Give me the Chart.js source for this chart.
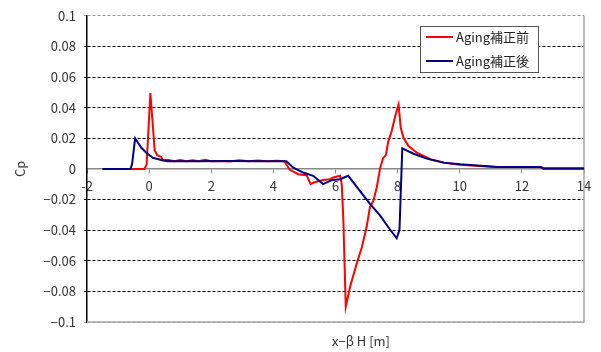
<!DOCTYPE html>
<html>
<head>
<meta charset="utf-8">
<script src="https://cdn.jsdelivr.net/npm/chart.js@4/dist/chart.umd.min.js"></script>
<style>
  html, body { margin: 0; padding: 0; background: #fff; }
  #wrap { width: 601px; height: 352px; }
</style>
</head>
<body>
<div id="wrap"><canvas id="cpChart" width="601" height="352"></canvas></div>
<script>
// Aging補正前 (赤)
const redX = [-1.5, -0.5, -0.15, -0.08, 0.04, 0.18, 0.26, 0.39, 0.45, 0.6, 0.8, 1.0, 1.2, 1.4, 1.6, 1.8, 2.0, 2.3, 2.6, 2.9, 3.2, 3.5, 3.8, 4.1, 4.35,
  4.53, 4.8, 5.07, 5.2, 5.3, 5.6, 5.82, 5.93, 6.15, 6.2, 6.25, 6.33, 6.47, 6.68, 6.85, 7.0, 7.11, 7.22, 7.33, 7.44, 7.54, 7.62, 7.7, 7.81, 7.92, 8.03,
  8.1, 8.19, 8.35, 8.62, 9.05, 9.5, 10.0, 10.5, 11.2, 12.6, 12.7, 14];
const redY = [0, 0, 0, 0.003, 0.0495, 0.012, 0.009, 0.0078, 0.0056, 0.006, 0.005, 0.0058, 0.005, 0.0057, 0.005, 0.006, 0.005, 0.0052, 0.0048, 0.0056, 0.005, 0.0055, 0.005, 0.0054, 0.005,
  -0.0006, -0.0035, -0.0041, -0.0099, -0.0089, -0.0073, -0.0067, -0.0056, -0.0045, -0.01, -0.0316, -0.090, -0.077, -0.062, -0.051, -0.038, -0.025, -0.0208, -0.012, 0.001, 0.0073, 0.009, 0.018, 0.0247, 0.0344, 0.042,
  0.0268, 0.0203, 0.0149, 0.0106, 0.0063, 0.004, 0.0027, 0.002, 0.0012, 0.0012, 0, 0];

// Aging補正後 (紺)
const blueX = [-1.5, -0.6, -0.55, -0.45, -0.25, -0.09, 0.12, 0.39, 0.6, 1.5, 2.5, 3.5, 4.42, 4.64, 4.96, 5.28, 5.6, 5.9, 6.15, 6.41,
  6.74, 7.11, 7.44, 7.7, 7.97, 8.06, 8.15, 8.51, 8.94, 9.48, 10.02, 10.45, 11.2, 12.6, 12.7, 14];
const blueY = [0, 0, 0.003, 0.0199, 0.0138, 0.0106, 0.0073, 0.0058, 0.005, 0.005, 0.0052, 0.005, 0.005, 0.0008, -0.0024, -0.0045, -0.0099, -0.0072, -0.0067, -0.0045,
  -0.0132, -0.0229, -0.0305, -0.0381, -0.0453, -0.040, 0.0134, 0.0099, 0.0067, 0.0041, 0.003, 0.0024, 0.0013, 0.0013, 0.0005, 0.0005];

const seriesLabels = ['Aging補正前', 'Aging補正後'];
const seriesColors = ['#ff0000', '#000080'];
const xTitle = 'x\u2212β H [m]';
const yTitle = 'Cp';

const toPoints = (xs, ys) => xs.map((x, i) => ({ x: x, y: ys[i] }));

Chart.defaults.font.family = '"Noto Sans CJK JP", "Noto Sans", sans-serif';
Chart.defaults.font.size = 13;
Chart.defaults.color = '#333';

// 右と下の枠線
const frame = {
  id: 'frame',
  beforeDatasetsDraw(chart) {
    const { ctx, chartArea: a } = chart;
    ctx.save();
    ctx.strokeStyle = '#a8a8a8';
    ctx.lineWidth = 1.5;
    ctx.beginPath();
    ctx.moveTo(a.left, a.bottom);
    ctx.lineTo(a.right, a.bottom);
    ctx.lineTo(a.right, a.top);
    ctx.stroke();
    ctx.restore();
  }
};

// 凡例 (枠付き、グラフ内右上)
const boxLegend = {
  id: 'boxLegend',
  afterDraw(chart) {
    const { ctx } = chart;
    const x = 420, y = 26, w = 118, h = 46;
    ctx.save();
    ctx.fillStyle = '#fff';
    ctx.fillRect(x, y, w, h);
    ctx.strokeStyle = '#555';
    ctx.lineWidth = 1;
    ctx.strokeRect(x + 0.5, y + 0.5, w, h);
    ctx.font = '13px "Noto Sans CJK JP", "Noto Sans", sans-serif';
    ctx.textBaseline = 'middle';
    chart.data.datasets.forEach((ds, i) => {
      const ly = y + 11 + i * 24;
      ctx.strokeStyle = ds.borderColor;
      ctx.lineWidth = 2;
      ctx.beginPath();
      ctx.moveTo(x + 6, ly);
      ctx.lineTo(x + 33, ly);
      ctx.stroke();
      ctx.fillStyle = '#222';
      ctx.fillText(ds.label, x + 36, ly);
    });
    ctx.restore();
  }
};

// x軸タイトル (グラフ下)
const bottomTitle = {
  id: 'bottomTitle',
  afterDraw(chart) {
    const { ctx } = chart;
    ctx.save();
    ctx.font = '13px "Noto Sans CJK JP", "Noto Sans", sans-serif';
    ctx.fillStyle = '#333';
    ctx.textAlign = 'center';
    ctx.textBaseline = 'middle';
    ctx.fillText(xTitle, 361, 341);
    ctx.restore();
  }
};

const gridColor = (c) => {
  const v = c.tick ? c.tick.value : 0;
  if (Math.abs(v) < 1e-9) return 'rgba(0,0,0,0)';
  if (Math.abs(Math.abs(v) - 0.1) < 1e-9) return '#999';
  return '#000';
};

new Chart(document.getElementById('cpChart'), {
  type: 'line',
  data: {
    datasets: [
      { label: seriesLabels[0], data: toPoints(redX, redY), borderColor: seriesColors[0], borderWidth: 2, pointRadius: 0, tension: 0, order: 1 },
      { label: seriesLabels[1], data: toPoints(blueX, blueY), borderColor: seriesColors[1], borderWidth: 2, pointRadius: 0, tension: 0, order: 0 }
    ]
  },
  options: {
    responsive: false,
    animation: false,
    devicePixelRatio: 1,
    layout: { padding: { left: 0, top: 14, right: 17, bottom: 30 } },
    plugins: {
      legend: { display: false },
      tooltip: { enabled: false }
    },
    scales: {
      x: {
        type: 'linear',
        min: -2,
        max: 14,
        position: { y: 0 },
        ticks: { stepSize: 2, padding: 5, maxRotation: 0 },
        grid: { drawOnChartArea: false, drawTicks: true, tickLength: 4, color: '#888' },
        border: { color: '#888', width: 1.5 }
      },
      y: {
        min: -0.1,
        max: 0.1,
        afterFit(scale) { scale.width = 87; },
        ticks: {
          stepSize: 0.02,
          padding: 8,
          callback: (v) => {
            const r = Math.round(v * 100) / 100;
            return r < 0 ? '\u2212' + String(-r) : String(r);
          }
        },
        grid: { color: gridColor, lineWidth: 1, tickLength: 3 },
        border: { color: '#000', width: 1.5, dash: [3, 2] },
        title: { display: true, text: yTitle, padding: { top: 12, bottom: 0 } }
      }
    }
  },
  plugins: [frame, boxLegend, bottomTitle]
});
</script>
</body>
</html>
